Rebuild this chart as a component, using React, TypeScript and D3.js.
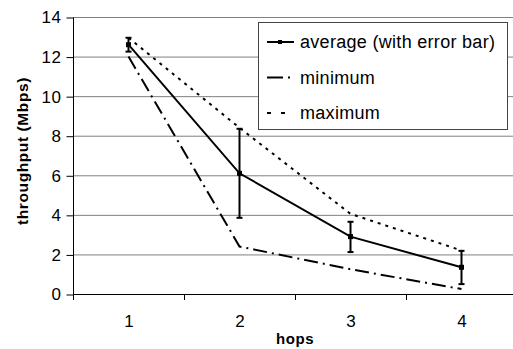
import { useEffect, useRef } from 'react'
import * as d3 from 'd3'

const hops = ['1', '2', '3', '4']
const average = [12.6, 6.1, 2.9, 1.35]
const errLow = [12.25, 3.85, 2.12, 0.5]
const errHigh = [12.95, 8.35, 3.65, 2.18]
const minimum = [12.0, 2.4, 1.25, 0.25]
const maximum = [12.95, 8.4, 4.05, 2.2]
const yTicks = [0, 2, 4, 6, 8, 10, 12, 14]

const FONT = 'Liberation Sans, Arial, sans-serif'

export default function App() {
  const svgRef = useRef<SVGSVGElement>(null)

  useEffect(() => {
    if (!svgRef.current) return
    const W = 513
    const H = 349
    const left = 73
    const right = 517
    const top = 17
    const bottom = 294

    const svg = d3.select(svgRef.current)
    svg.selectAll('*').remove()
    svg.attr('width', W).attr('height', H)

    const x = d3.scaleBand().domain(hops).range([left, right])
    const cx = (d: string) => (x(d) as number) + x.bandwidth() / 2
    const y = d3.scaleLinear().domain([0, 14]).range([bottom, top])

    // gridlines
    svg.append('g')
      .selectAll('line')
      .data(yTicks.filter(t => t > 0))
      .enter().append('line')
      .attr('x1', left).attr('x2', W)
      .attr('y1', d => y(d) + 0.5).attr('y2', d => y(d) + 0.5)
      .attr('stroke', '#808080').attr('stroke-width', 1)

    // Y axis
    svg.append('g')
      .attr('transform', `translate(${left + 0.5},0.5)`)
      .call(d3.axisLeft(y).tickValues(yTicks).tickSize(7).tickPadding(5).tickFormat(d => String(d)))
      .call(ax => ax.select('.domain').attr('stroke', '#000').attr('d', `M0,${top}V${bottom}`))
      .call(ax => ax.selectAll('.tick line').attr('stroke', '#000'))
      .call(ax => ax.selectAll('text').attr('fill', '#000').attr('font-size', '17px')
        .attr('letter-spacing', '0.6px').attr('font-family', FONT))

    // X axis
    svg.append('g')
      .attr('transform', `translate(0.5,${bottom + 0.5})`)
      .call(d3.axisBottom(x).tickSize(0).tickPadding(20))
      .call(ax => ax.select('.domain').attr('stroke', '#000').attr('d', `M${left},0H${W}`))
      .call(ax => ax.selectAll('text').attr('fill', '#000').attr('font-size', '17px').attr('font-family', FONT))

    // category boundary ticks
    svg.append('g')
      .selectAll('line')
      .data(hops)
      .enter().append('line')
      .attr('x1', d => (x(d) as number) + 0.5).attr('x2', d => (x(d) as number) + 0.5)
      .attr('y1', bottom).attr('y2', bottom + 6)
      .attr('stroke', '#000')

    // Axis titles
    svg.append('text')
      .attr('x', (left + right) / 2).attr('y', 344)
      .attr('text-anchor', 'middle')
      .attr('font-family', FONT).attr('font-weight', 'bold').attr('font-size', '15px')
      .attr('letter-spacing', '0.6px')
      .text('hops')

    svg.append('text')
      .attr('transform', `translate(28,151) rotate(-90)`)
      .attr('text-anchor', 'middle')
      .attr('font-family', FONT).attr('font-weight', 'bold').attr('font-size', '15.5px')
      .attr('letter-spacing', '0.6px')
      .text('throughput (Mbps)')

    const line = d3.line<number>()
      .x((_, i) => cx(hops[i]))
      .y(d => y(d))

    // maximum (dotted)
    svg.append('path')
      .attr('d', line(maximum))
      .attr('fill', 'none').attr('stroke', '#000').attr('stroke-width', 2)
      .attr('stroke-dasharray', '3,5')

    // minimum (dash-dot)
    svg.append('path')
      .attr('d', line(minimum))
      .attr('fill', 'none').attr('stroke', '#000').attr('stroke-width', 2)
      .attr('stroke-dasharray', '14,5,2,5')

    // average
    svg.append('path')
      .attr('d', line(average))
      .attr('fill', 'none').attr('stroke', '#000').attr('stroke-width', 2)

    // error bars
    const eb = svg.append('g').attr('stroke', '#000').attr('stroke-width', 2)
    hops.forEach((h, i) => {
      const px = cx(h)
      eb.append('line').attr('x1', px).attr('x2', px).attr('y1', y(errLow[i])).attr('y2', y(errHigh[i]))
      eb.append('line').attr('x1', px - 3).attr('x2', px + 3).attr('y1', y(errLow[i])).attr('y2', y(errLow[i]))
      eb.append('line').attr('x1', px - 3).attr('x2', px + 3).attr('y1', y(errHigh[i])).attr('y2', y(errHigh[i]))
    })

    // markers
    svg.append('g')
      .selectAll('rect')
      .data(average)
      .enter().append('rect')
      .attr('x', (_, i) => cx(hops[i]) - 2.5)
      .attr('y', d => y(d) - 2.5)
      .attr('width', 5).attr('height', 5)
      .attr('fill', '#000')

    // Legend
    const lg = svg.append('g')
    lg.append('rect')
      .attr('x', 258.5).attr('y', 22.5).attr('width', 249).attr('height', 107)
      .attr('fill', '#fff').attr('stroke', '#444').attr('stroke-width', 1)

    const items = [
      { label: 'average (with error bar)', dash: null, marker: true },
      { label: 'minimum', dash: '16,5,2,5', marker: false },
      { label: 'maximum', dash: '4,10', marker: false },
    ]
    items.forEach((it, i) => {
      const ly = 42 + i * 35.5
      const l = lg.append('line')
        .attr('x1', 267).attr('x2', 294).attr('y1', ly).attr('y2', ly)
        .attr('stroke', '#000').attr('stroke-width', 2)
      if (it.dash) l.attr('stroke-dasharray', it.dash)
      if (it.marker) {
        lg.append('rect').attr('x', 278).attr('y', ly - 2).attr('width', 4).attr('height', 4).attr('fill', '#000')
      }
      lg.append('text')
        .attr('x', 300).attr('y', ly + 6)
        .attr('font-family', FONT).attr('font-size', '18px')
        .attr('letter-spacing', '0.3px')
        .text(it.label)
    })
  }, [])

  return (
    <div style={{ position: 'fixed', left: 0, top: 0 }}>
      <svg ref={svgRef} style={{ display: 'block', background: '#fff' }} />
    </div>
  )
}
